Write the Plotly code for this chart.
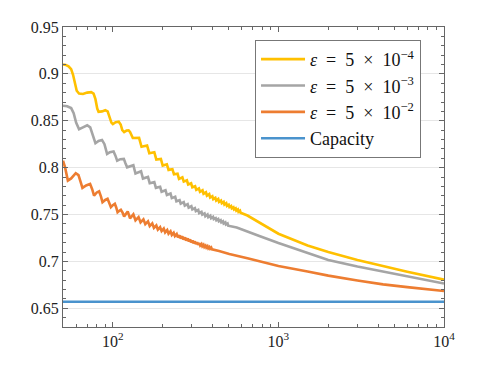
import math
import plotly.graph_objects as go

# ── DATA ────────────────────────────────────────────────────
# eps = 5e-4  (yellow)
n_a_head = [50, 52, 54, 56, 57.5, 59, 60.5, 62.5, 66, 70, 74, 76.5, 78.5, 80.5, 82,
            86, 90, 93, 95.5, 98, 100, 104, 108.5, 111.5, 114, 117, 121, 124.5, 127, 129.5]
r_a_head = [0.910, 0.9095, 0.908, 0.905, 0.899, 0.889, 0.882, 0.879, 0.8785, 0.880,
            0.8805, 0.879, 0.873, 0.863, 0.8595, 0.860, 0.8612, 0.860, 0.854, 0.848,
            0.8465, 0.8485, 0.849, 0.846, 0.840, 0.838, 0.8395, 0.8398, 0.838, 0.8335]
n_a_low = [132, 149, 166, 183, 200, 217, 234, 251, 268, 285, 302, 319, 336, 353,
           370, 387, 404, 421, 438, 455, 472, 489, 506, 523, 540, 557, 574, 591]
r_a_low = [0.8316, 0.8222, 0.8154, 0.8087, 0.8022, 0.7976, 0.7928, 0.7880, 0.7851,
           0.7820, 0.7790, 0.7763, 0.7742, 0.7722, 0.7701, 0.7681, 0.7664, 0.7649,
           0.7634, 0.7621, 0.7606, 0.7592, 0.7579, 0.7566, 0.7554, 0.7541, 0.7529, 0.7518]
n_a_high = [144, 161, 178, 195, 212, 229, 246, 263, 280, 297, 314, 331, 348, 365,
            382, 399, 416, 433, 450, 467, 484, 501, 518, 535, 552, 569, 586]
r_a_high = [0.8317, 0.8236, 0.8164, 0.8092, 0.8035, 0.7984, 0.7934, 0.7896, 0.7865,
            0.7833, 0.7801, 0.7778, 0.7758, 0.7737, 0.7717, 0.7695, 0.7679, 0.7665,
            0.7649, 0.7635, 0.7620, 0.7604, 0.7590, 0.7577, 0.7565, 0.7553, 0.7541]
n_a_tail = [650, 770, 1000, 1500, 2000, 3000, 4285, 6000, 10000]
r_a_tail = [0.7489, 0.741, 0.7295, 0.717, 0.710, 0.7015, 0.695, 0.689, 0.6805]

# eps = 5e-3  (gray)
n_b_head = [50, 53, 56, 58, 60, 62.5, 66, 70, 73, 75.5, 78.5, 82, 86, 89, 92.3,
            96, 101, 103.5, 106.2, 111, 116.5, 119]
r_b_head = [0.866, 0.8655, 0.8635, 0.858, 0.848, 0.841, 0.843, 0.8452, 0.843, 0.835,
            0.826, 0.8285, 0.8295, 0.825, 0.8146, 0.8165, 0.8173, 0.813, 0.8074,
            0.809, 0.8093, 0.805]
n_b_low = [122, 137, 152, 167, 182, 197, 212, 227, 242, 257, 272, 287, 302, 317,
           332, 347, 362, 377, 392, 407, 422, 437, 452, 467, 482, 497]
r_b_low = [0.8003, 0.7937, 0.7883, 0.7834, 0.7784, 0.7742, 0.7709, 0.7675, 0.7641,
           0.7615, 0.7594, 0.7573, 0.7554, 0.7535, 0.7516, 0.7498, 0.7482, 0.7471,
           0.7460, 0.7451, 0.7439, 0.7428, 0.7416, 0.7404, 0.7393, 0.7381]
n_b_high = [133, 148, 163, 178, 193, 208, 223, 238, 253, 268, 283, 298, 313, 328,
            343, 358, 373, 388, 403, 418, 433, 448, 463, 478, 493]
r_b_high = [0.8025, 0.7961, 0.7900, 0.7845, 0.7795, 0.7759, 0.7724, 0.7690, 0.7653,
            0.7632, 0.7610, 0.7588, 0.7568, 0.7549, 0.7529, 0.7511, 0.7500, 0.7487,
            0.7475, 0.7462, 0.7451, 0.7439, 0.7427, 0.7416, 0.7404]
n_b_tail = [560, 650, 767, 1000, 1500, 2000, 3000, 4285, 6000, 10000]
r_b_tail = [0.7361, 0.7321, 0.727, 0.7195, 0.709, 0.7015, 0.6945, 0.689, 0.684, 0.6763]

# eps = 5e-2  (orange)
n_c_head = [50, 51.5, 53.5, 56, 59.7, 62, 63.8, 65.5, 69, 72.9, 75, 77, 80, 82.6,
            84.8, 86.6, 90, 92.9, 95, 97.3, 100, 102.8, 104.8, 106.8, 109.5, 111.8, 114.5]
r_c_head = [0.8074, 0.800, 0.7862, 0.7885, 0.794, 0.792, 0.785, 0.7784, 0.781, 0.7827,
            0.777, 0.7702, 0.7735, 0.7748, 0.769, 0.7631, 0.7655, 0.7667, 0.7625,
            0.7578, 0.760, 0.7614, 0.7575, 0.7524, 0.754, 0.755, 0.752]
n_c_low = [117, 127, 137, 147, 157, 167, 177, 187, 197, 207, 217, 227, 237, 247, 257,
           267, 277, 287, 297, 307, 317, 327, 337, 347, 357, 367, 377, 387, 397]
r_c_low = [0.7480, 0.7459, 0.7438, 0.7416, 0.7397, 0.7377, 0.7357, 0.7338, 0.7323,
           0.7309, 0.7296, 0.7282, 0.7270, 0.7256, 0.7244, 0.7234, 0.7223, 0.7213,
           0.7202, 0.7194, 0.7185, 0.7178, 0.7170, 0.7162, 0.7154, 0.7147, 0.7140,
           0.7135, 0.7128]
n_c_high = [123, 133, 143, 153, 163, 173, 183, 193, 203, 213, 223, 233, 243, 253,
            263, 273, 283, 293, 303, 313, 323, 333, 343, 353, 363, 373, 383, 393]
r_c_high = [0.7533, 0.7501, 0.7472, 0.7448, 0.7427, 0.7405, 0.7383, 0.7364, 0.7350,
            0.7335, 0.7320, 0.7305, 0.7291, 0.7278, 0.7266, 0.7255, 0.7244, 0.7233,
            0.7222, 0.7213, 0.7204, 0.7195, 0.7186, 0.7177, 0.7168, 0.7161, 0.7153, 0.7147]
n_c_tail = [438, 505, 650, 800, 1000, 1500, 2000, 3000, 4285, 6000, 10000]
r_c_tail = [0.711, 0.7079, 0.7033, 0.6996, 0.695, 0.6893, 0.6848, 0.6797, 0.6755, 0.6725, 0.6684]

# capacity
n_cap = [50, 10000]
r_cap = [0.657, 0.657]

sp = "\u2002"  # wide math-style spacing around = and ×
names = [f"<i>ε</i>{sp}={sp}5{sp}×{sp}10<sup>−4</sup>",
         f"<i>ε</i>{sp}={sp}5{sp}×{sp}10<sup>−3</sup>",
         f"<i>ε</i>{sp}={sp}5{sp}×{sp}10<sup>−2</sup>",
         "Capacity"]
colors = ["#FFC000", "#A5A5A5", "#ED7D31", "#4A93CD"]

y_ticks = [0.65, 0.7, 0.75, 0.8, 0.85, 0.9, 0.95]
y_ticktext = ["0.65", "0.7", "0.75", "0.8", "0.85", "0.9", "0.95"]
x_ticks = [100, 1000, 10000]
x_ticktext = ["10<sup>2</sup>", "10<sup>3</sup>", "10<sup>4</sup>"]
x_minor = [60, 70, 80, 90, 200, 300, 400, 500, 600, 700, 800, 900,
           2000, 3000, 4000, 5000, 6000, 7000, 8000, 9000]


# ── BUILD CURVES ────────────────────────────────────────────
def build(head_n, head_r, low_n, low_r, high_n, high_r, tail_n, tail_r):
    xs = list(head_n)
    ys = list(head_r)
    for i in range(len(low_n)):
        xs.append(low_n[i])
        ys.append(low_r[i])
        if i < len(high_n):
            xs.append(high_n[i])
            ys.append(high_r[i])
    return xs + tail_n, ys + tail_r


curves = [
    build(n_a_head, r_a_head, n_a_low, r_a_low, n_a_high, r_a_high, n_a_tail, r_a_tail),
    build(n_b_head, r_b_head, n_b_low, r_b_low, n_b_high, r_b_high, n_b_tail, r_b_tail),
    build(n_c_head, r_c_head, n_c_low, r_c_low, n_c_high, r_c_high, n_c_tail, r_c_tail),
    (n_cap, r_cap),
]

fig = go.Figure()
for (xs, ys), name, col in zip(curves, names, colors):
    fig.add_trace(go.Scatter(
        x=xs, y=ys, mode="lines", name=name,
        line=dict(color=col, width=2.6)
    ))

font = "Liberation Serif, Times New Roman, serif"
axis_common = dict(
    showline=True, linecolor="#666666", linewidth=1, mirror="allticks",
    ticks="inside", ticklen=5, tickcolor="#666666",
    tickfont=dict(family=font, size=16, color="#222222"),
    zeroline=False,
)

# page body has an 8px margin, so the figure is trimmed by that much
fig.update_layout(
    width=483, height=360,
    margin=dict(l=55, r=47, t=19, b=41),
    paper_bgcolor="white", plot_bgcolor="white",
    font=dict(family=font, size=16, color="#111111"),
    legend=dict(
        x=0.504, y=0.957, xanchor="left", yanchor="top",
        bgcolor="white", bordercolor="#777777", borderwidth=1,
        font=dict(family=font, size=18, color="#111111"),
        tracegroupgap=0, itemwidth=44,
    ),
)

fig.update_xaxes(
    type="log", range=[math.log10(50), 4],
    tickvals=x_ticks, ticktext=x_ticktext, showgrid=False,
    minor=dict(ticks="inside", ticklen=3, tickcolor="#666666",
               tickvals=x_minor, showgrid=False),
    **axis_common
)
fig.update_yaxes(
    range=[0.63, 0.95],
    tickvals=y_ticks, ticktext=y_ticktext,
    showgrid=True, gridcolor="#E6E6E6", gridwidth=1,
    minor=dict(ticks="inside", ticklen=3, tickcolor="#666666", dtick=0.01, showgrid=False),
    **axis_common
)

fig.write_html("out.html")
